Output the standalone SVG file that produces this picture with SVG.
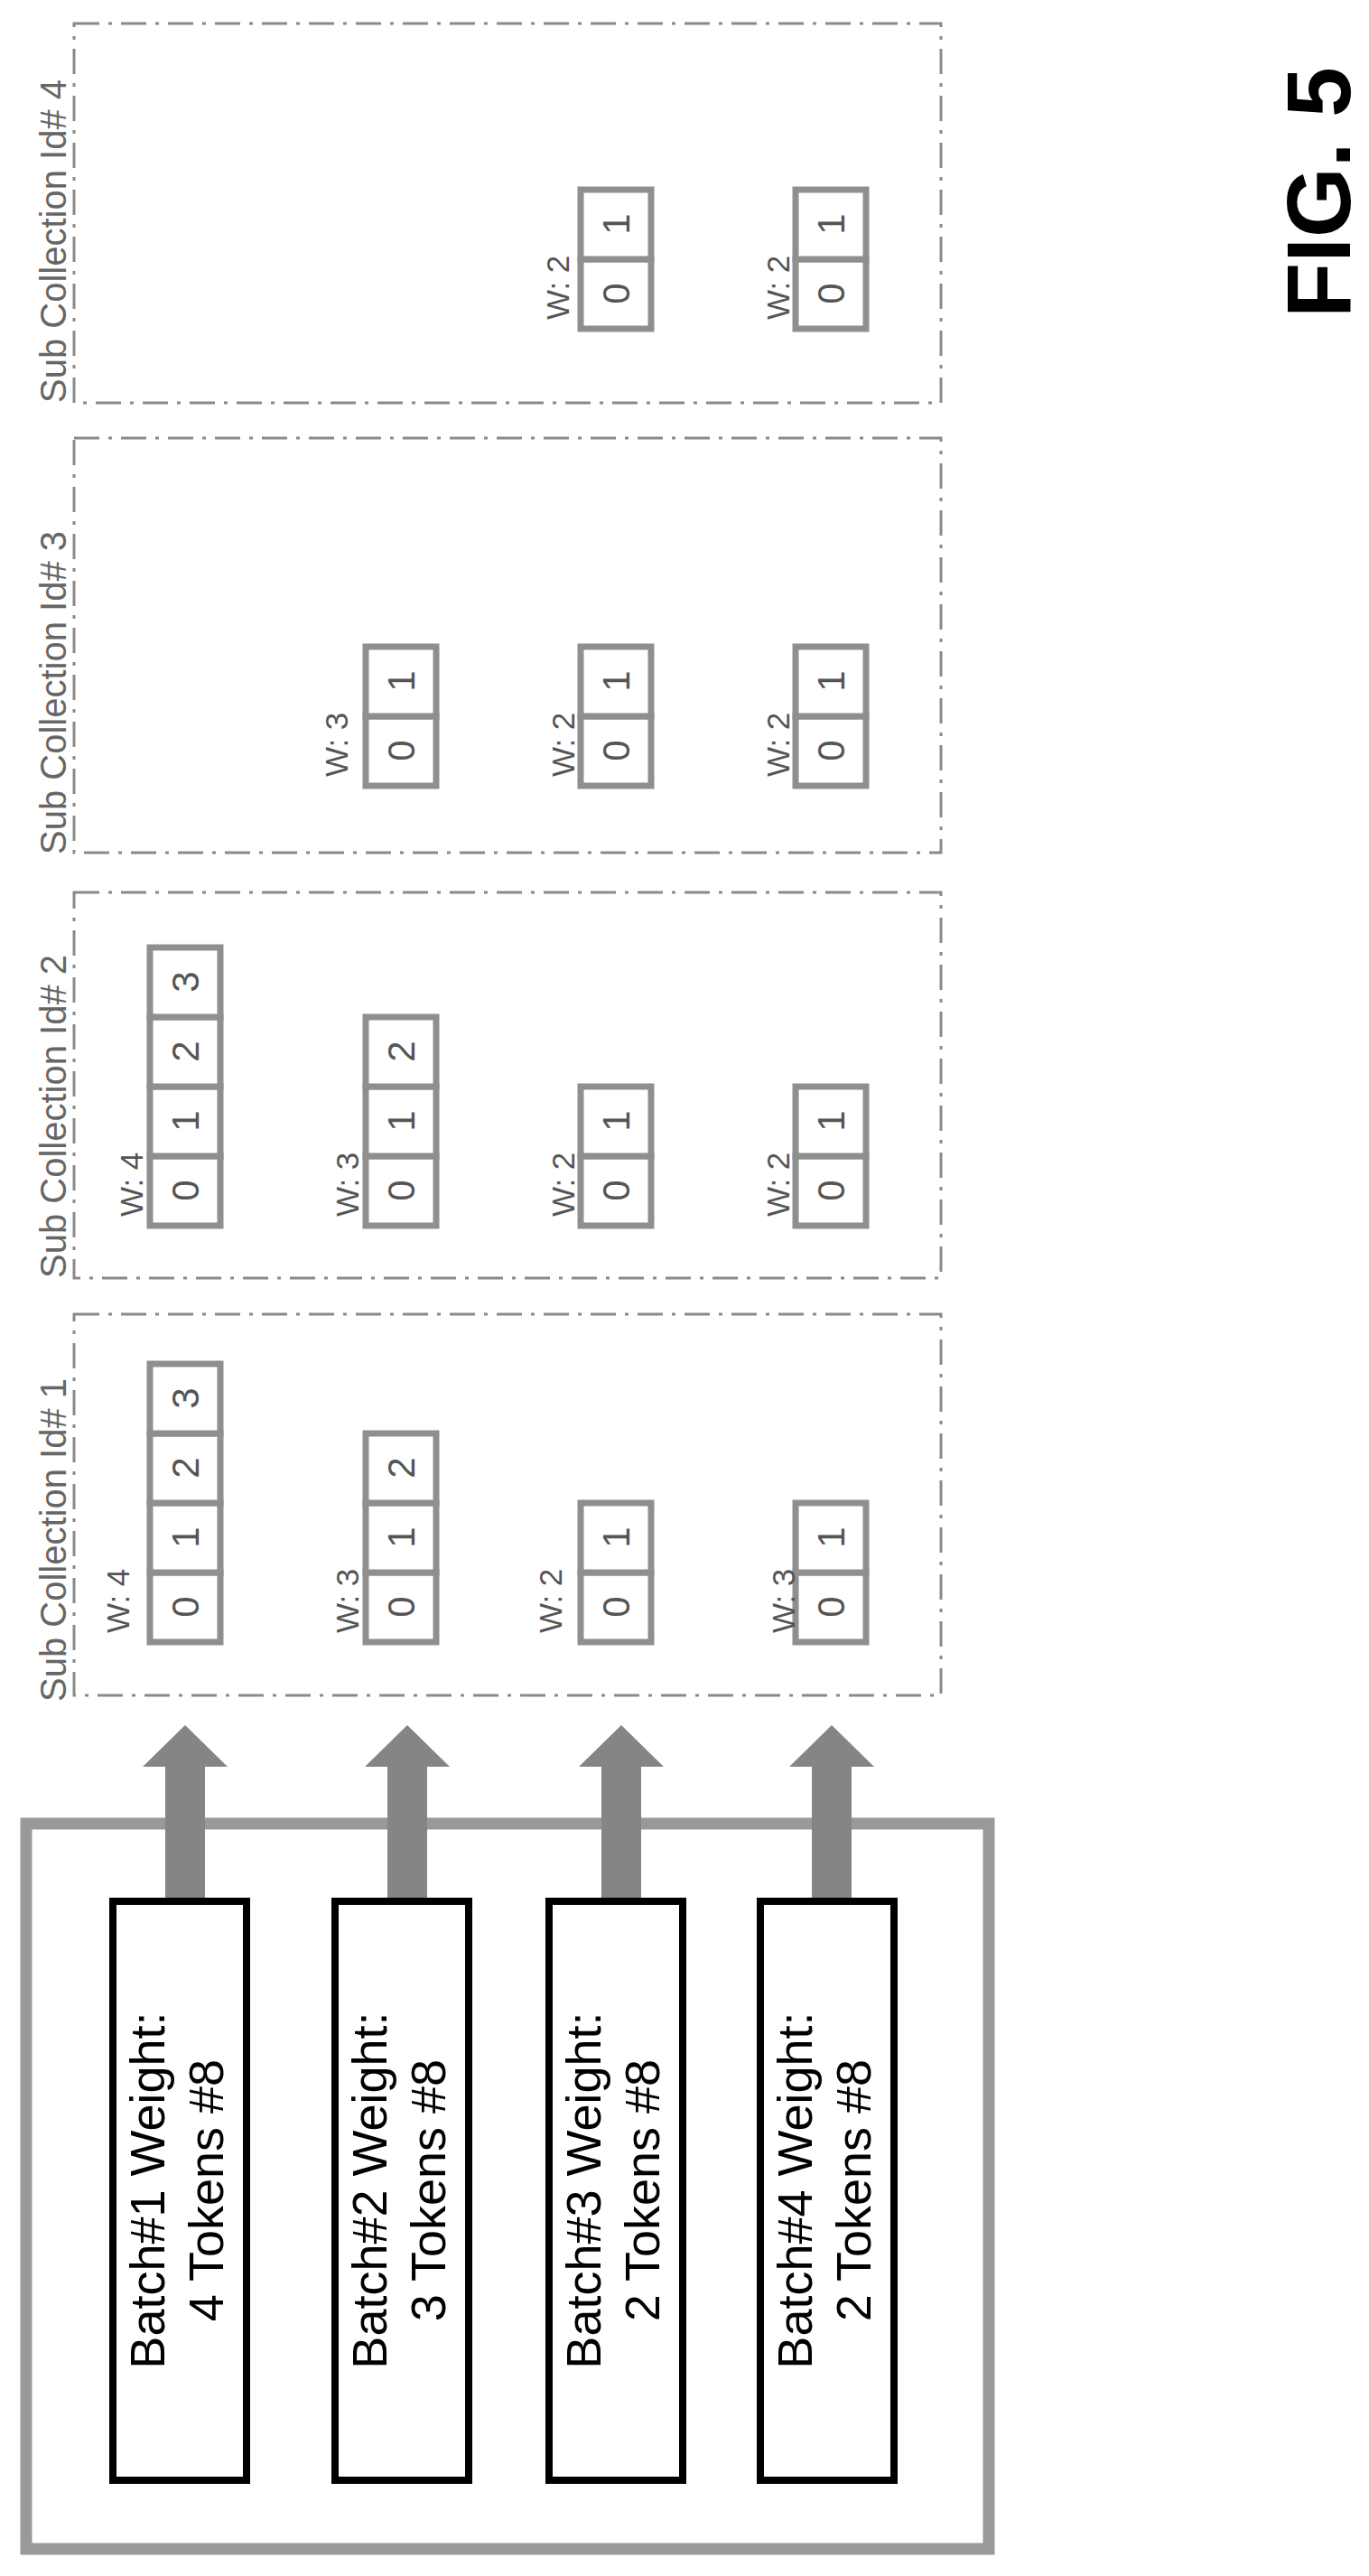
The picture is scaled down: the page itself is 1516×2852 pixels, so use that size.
<svg xmlns="http://www.w3.org/2000/svg" width="1516" height="2852" viewBox="0 0 1516 2852">
<style>
.sc{fill:none;stroke:#8a8a8a;stroke-width:3;stroke-dasharray:28 10 4 10}
.lbl{font-family:"Liberation Sans",Arial,sans-serif;font-size:40px;fill:#666}
.w{font-family:"Liberation Sans",Arial,sans-serif;font-size:35px;fill:#555}
.cell{fill:#fff;stroke:#8f8f8f;stroke-width:7}
.d{font-family:"Liberation Sans",Arial,sans-serif;font-size:42px;fill:#555;text-anchor:middle}
.batch{fill:#fff;stroke:#000;stroke-width:8}
.bt{font-family:"Liberation Sans",Arial,sans-serif;font-size:54px;fill:#000;text-anchor:middle}
.arr{fill:#858585}
</style>
<rect width="1516" height="2852" fill="#fff"/>
<g id="outer"><rect x="29" y="2019" width="1066" height="803" fill="none" stroke="#999" stroke-width="13"/></g>
<g id="connectors">
<path class="arr" d="M205 1910 L252 1956 L227 1956 L227 2105 L183 2105 L183 1956 L158 1956 Z"/>
<path class="arr" d="M451 1910 L498 1956 L473 1956 L473 2105 L429 2105 L429 1956 L404 1956 Z"/>
<path class="arr" d="M688 1910 L735 1956 L710 1956 L710 2105 L666 2105 L666 1956 L641 1956 Z"/>
<path class="arr" d="M921 1910 L968 1956 L943 1956 L943 2105 L899 2105 L899 1956 L874 1956 Z"/>
</g>
<g id="batch1"><rect class="batch" x="125" y="2105" width="148" height="641"/>
<text class="bt" x="182" y="2425" transform="rotate(-90 182 2425)">Batch#1 Weight:</text>
<text class="bt" x="247" y="2425" transform="rotate(-90 247 2425)">4 Tokens #8</text></g>
<g id="batch2"><rect class="batch" x="371" y="2105" width="148" height="641"/>
<text class="bt" x="428" y="2425" transform="rotate(-90 428 2425)">Batch#2 Weight:</text>
<text class="bt" x="493" y="2425" transform="rotate(-90 493 2425)">3 Tokens #8</text></g>
<g id="batch3"><rect class="batch" x="608" y="2105" width="148" height="641"/>
<text class="bt" x="665" y="2425" transform="rotate(-90 665 2425)">Batch#3 Weight:</text>
<text class="bt" x="730" y="2425" transform="rotate(-90 730 2425)">2 Tokens #8</text></g>
<g id="batch4"><rect class="batch" x="842" y="2105" width="148" height="641"/>
<text class="bt" x="899" y="2425" transform="rotate(-90 899 2425)">Batch#4 Weight:</text>
<text class="bt" x="964" y="2425" transform="rotate(-90 964 2425)">2 Tokens #8</text></g>

<g id="sc1"><rect class="sc" x="82" y="1455" width="960" height="422"/>
<text class="lbl" x="73" y="1884" transform="rotate(-90 73 1884)">Sub Collection Id# 1</text>
<rect class="cell" x="166" y="1741" width="78" height="77"/><rect class="cell" x="166" y="1664" width="78" height="77"/><rect class="cell" x="166" y="1587" width="78" height="77"/><rect class="cell" x="166" y="1510" width="78" height="77"/>
<text class="d" x="220" y="1779" transform="rotate(-90 220 1779)">0</text><text class="d" x="220" y="1702" transform="rotate(-90 220 1702)">1</text><text class="d" x="220" y="1625" transform="rotate(-90 220 1625)">2</text><text class="d" x="220" y="1548" transform="rotate(-90 220 1548)">3</text>
<text class="w" x="143" y="1808" transform="rotate(-90 143 1808)">W: 4</text>
<rect class="cell" x="405" y="1741" width="78" height="77"/><rect class="cell" x="405" y="1664" width="78" height="77"/><rect class="cell" x="405" y="1587" width="78" height="77"/>
<text class="d" x="459" y="1779" transform="rotate(-90 459 1779)">0</text><text class="d" x="459" y="1702" transform="rotate(-90 459 1702)">1</text><text class="d" x="459" y="1625" transform="rotate(-90 459 1625)">2</text>
<text class="w" x="397" y="1808" transform="rotate(-90 397 1808)">W: 3</text>
<rect class="cell" x="643" y="1741" width="78" height="77"/><rect class="cell" x="643" y="1664" width="78" height="77"/>
<text class="d" x="697" y="1779" transform="rotate(-90 697 1779)">0</text><text class="d" x="697" y="1702" transform="rotate(-90 697 1702)">1</text>
<text class="w" x="622" y="1808" transform="rotate(-90 622 1808)">W: 2</text>
<rect class="cell" x="881" y="1741" width="78" height="77"/><rect class="cell" x="881" y="1664" width="78" height="77"/>
<text class="d" x="935" y="1779" transform="rotate(-90 935 1779)">0</text><text class="d" x="935" y="1702" transform="rotate(-90 935 1702)">1</text>
<text class="w" x="880" y="1808" transform="rotate(-90 880 1808)">W: 3</text></g>

<g id="sc2"><rect class="sc" x="82" y="988" width="960" height="427"/>
<text class="lbl" x="73" y="1415" transform="rotate(-90 73 1415)">Sub Collection Id# 2</text>
<rect class="cell" x="166" y="1280" width="78" height="77"/><rect class="cell" x="166" y="1203" width="78" height="77"/><rect class="cell" x="166" y="1126" width="78" height="77"/><rect class="cell" x="166" y="1049" width="78" height="77"/>
<text class="d" x="220" y="1318" transform="rotate(-90 220 1318)">0</text><text class="d" x="220" y="1241" transform="rotate(-90 220 1241)">1</text><text class="d" x="220" y="1164" transform="rotate(-90 220 1164)">2</text><text class="d" x="220" y="1087" transform="rotate(-90 220 1087)">3</text>
<text class="w" x="158" y="1347" transform="rotate(-90 158 1347)">W: 4</text>
<rect class="cell" x="405" y="1280" width="78" height="77"/><rect class="cell" x="405" y="1203" width="78" height="77"/><rect class="cell" x="405" y="1126" width="78" height="77"/>
<text class="d" x="459" y="1318" transform="rotate(-90 459 1318)">0</text><text class="d" x="459" y="1241" transform="rotate(-90 459 1241)">1</text><text class="d" x="459" y="1164" transform="rotate(-90 459 1164)">2</text>
<text class="w" x="397" y="1347" transform="rotate(-90 397 1347)">W: 3</text>
<rect class="cell" x="643" y="1280" width="78" height="77"/><rect class="cell" x="643" y="1203" width="78" height="77"/>
<text class="d" x="697" y="1318" transform="rotate(-90 697 1318)">0</text><text class="d" x="697" y="1241" transform="rotate(-90 697 1241)">1</text>
<text class="w" x="636" y="1347" transform="rotate(-90 636 1347)">W: 2</text>
<rect class="cell" x="881" y="1280" width="78" height="77"/><rect class="cell" x="881" y="1203" width="78" height="77"/>
<text class="d" x="935" y="1318" transform="rotate(-90 935 1318)">0</text><text class="d" x="935" y="1241" transform="rotate(-90 935 1241)">1</text>
<text class="w" x="874" y="1347" transform="rotate(-90 874 1347)">W: 2</text></g>

<g id="sc3"><rect class="sc" x="82" y="485" width="960" height="459"/>
<text class="lbl" x="73" y="946" transform="rotate(-90 73 946)">Sub Collection Id# 3</text>
<rect class="cell" x="405" y="793" width="78" height="77"/><rect class="cell" x="405" y="716" width="78" height="77"/>
<text class="d" x="459" y="831" transform="rotate(-90 459 831)">0</text><text class="d" x="459" y="754" transform="rotate(-90 459 754)">1</text>
<text class="w" x="385" y="860" transform="rotate(-90 385 860)">W: 3</text>
<rect class="cell" x="643" y="793" width="78" height="77"/><rect class="cell" x="643" y="716" width="78" height="77"/>
<text class="d" x="697" y="831" transform="rotate(-90 697 831)">0</text><text class="d" x="697" y="754" transform="rotate(-90 697 754)">1</text>
<text class="w" x="636" y="860" transform="rotate(-90 636 860)">W: 2</text>
<rect class="cell" x="881" y="793" width="78" height="77"/><rect class="cell" x="881" y="716" width="78" height="77"/>
<text class="d" x="935" y="831" transform="rotate(-90 935 831)">0</text><text class="d" x="935" y="754" transform="rotate(-90 935 754)">1</text>
<text class="w" x="874" y="860" transform="rotate(-90 874 860)">W: 2</text></g>

<g id="sc4"><rect class="sc" x="82" y="26" width="960" height="420"/>
<text class="lbl" x="73" y="446" transform="rotate(-90 73 446)">Sub Collection Id# 4</text>
<rect class="cell" x="643" y="287" width="78" height="77"/><rect class="cell" x="643" y="210" width="78" height="77"/>
<text class="d" x="697" y="325" transform="rotate(-90 697 325)">0</text><text class="d" x="697" y="248" transform="rotate(-90 697 248)">1</text>
<text class="w" x="630" y="354" transform="rotate(-90 630 354)">W: 2</text>
<rect class="cell" x="881" y="287" width="78" height="77"/><rect class="cell" x="881" y="210" width="78" height="77"/>
<text class="d" x="935" y="325" transform="rotate(-90 935 325)">0</text><text class="d" x="935" y="248" transform="rotate(-90 935 248)">1</text>
<text class="w" x="874" y="354" transform="rotate(-90 874 354)">W: 2</text></g>

<g id="fig"><text x="1495" y="213" transform="rotate(-90 1495 213)" font-family="Liberation Sans,Arial,sans-serif" font-weight="bold" font-size="100" text-anchor="middle">FIG. 5</text></g>
</svg>
